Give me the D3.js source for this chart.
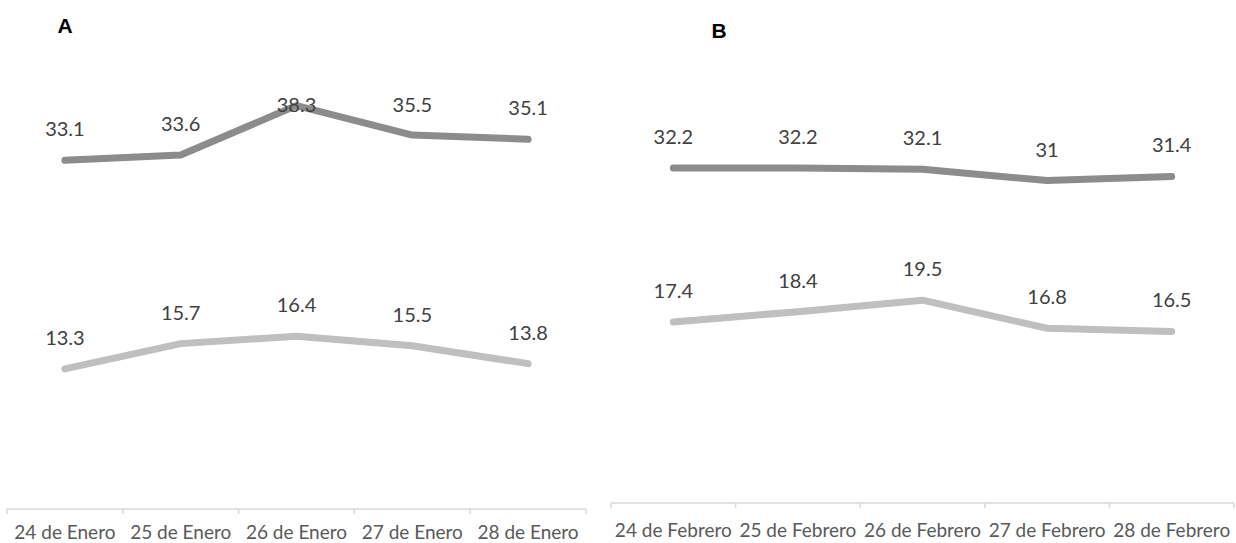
<!DOCTYPE html>
<html>
<head>
<meta charset="utf-8">
<script src="https://cdn.jsdelivr.net/npm/d3@7"></script>
<style>
  html, body { margin: 0; padding: 0; background: #fff; }
  svg { display: block; }
</style>
</head>
<body>
<svg id="chart" width="1236" height="543"></svg>
<script>
// Panel A: January readings
const daysA = ["24 de Enero", "25 de Enero", "26 de Enero", "27 de Enero", "28 de Enero"];
const upperA = [33.1, 33.6, 38.3, 35.5, 35.1];
const lowerA = [13.3, 15.7, 16.4, 15.5, 13.8];

// Panel B: February readings
const daysB = ["24 de Febrero", "25 de Febrero", "26 de Febrero", "27 de Febrero", "28 de Febrero"];
const upperB = [32.2, 32.2, 32.1, 31, 31.4];
const lowerB = [17.4, 18.4, 19.5, 16.8, 16.5];

const yDomain = [0, 45];

const svg = d3.select("#chart");
const FONT = "Lato, 'Open Sans', sans-serif";

function panel(cfg) {
  const g = svg.append("g");

  const x = d3.scaleBand().domain(cfg.days).range([cfg.left, cfg.right]).padding(0);
  const y = d3.scaleLinear().domain(yDomain).range([cfg.bottom, cfg.top]);
  const cx = d => x(d) + x.bandwidth() / 2;

  // category axis: line, boundary ticks, centred labels
  const axis = d3.axisBottom(x).tickSize(0).tickPadding(0);
  const ax = g.append("g").attr("transform", `translate(0,${cfg.bottom})`).call(axis);
  ax.select(".domain").remove();
  ax.selectAll("text")
    .attr("y", cfg.labelBaseline - cfg.bottom)
    .attr("dy", null)
    .attr("fill", "#595959")
    .style("font-family", FONT)
    .style("font-size", cfg.axisFont + "px");

  g.append("line")
    .attr("x1", cfg.left).attr("x2", cfg.right)
    .attr("y1", cfg.bottom).attr("y2", cfg.bottom)
    .attr("stroke", "#d9d9d9").attr("stroke-width", 1.5);

  const edges = cfg.days.map(d => x(d)).concat([cfg.right]);
  g.selectAll("line.edge").data(edges).join("line")
    .attr("class", "edge")
    .attr("x1", d => d).attr("x2", d => d)
    .attr("y1", cfg.bottom).attr("y2", cfg.bottom + 5)
    .attr("stroke", "#d9d9d9").attr("stroke-width", 1.5);

  const line = d3.line().x(d => cx(d.day)).y(d => y(d.v));

  cfg.series.forEach(s => {
    const pts = cfg.days.map((day, i) => ({ day, v: s.values[i] }));
    g.append("path")
      .datum(pts)
      .attr("d", line)
      .attr("fill", "none")
      .attr("stroke", s.color)
      .attr("stroke-width", 7)
      .attr("stroke-linecap", "round")
      .attr("stroke-linejoin", "round");

    g.selectAll(null).data(pts).join("text")
      .attr("x", d => cx(d.day))
      .attr("y", d => Math.max(y(d.v) - 31, cfg.labelTop) + 7)
      .attr("text-anchor", "middle")
      .attr("fill", "#404040")
      .style("font-family", FONT)
      .style("font-size", "20px")
      .text(d => d.v);
  });

  svg.append("text")
    .attr("x", cfg.titleX).attr("y", cfg.titleY)
    .attr("text-anchor", "middle")
    .attr("fill", "#000")
    .style("font-family", "'Liberation Sans', Arial, sans-serif")
    .style("font-weight", "bold")
    .style("font-size", "21px")
    .text(cfg.title);
}

panel({
  title: "A", titleX: 65, titleY: 33,
  days: daysA, left: 7, right: 586, top: 35, bottom: 509,
  labelBaseline: 539, axisFont: 19, labelTop: 105,
  series: [
    { values: upperA, color: "#8c8c8c" },
    { values: lowerA, color: "#bfbfbf" }
  ]
});

panel({
  title: "B", titleX: 719, titleY: 38,
  days: daysB, left: 611, right: 1234, top: 35, bottom: 503,
  labelBaseline: 537, axisFont: 19, labelTop: 0,
  series: [
    { values: upperB, color: "#8c8c8c" },
    { values: lowerB, color: "#bfbfbf" }
  ]
});
</script>
</body>
</html>
